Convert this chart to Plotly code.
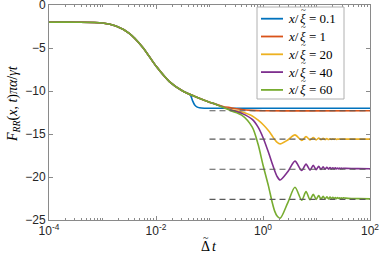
import plotly.graph_objects as go

# ---- data ----
common_t = [1e-4, 3.16e-4, 1e-3, 1.78e-3, 3.16e-3, 5.62e-3, 1e-2, 1.78e-2, 3.16e-2]
common_y = [-2.0, -2.0, -2.1, -2.45, -3.3, -4.9, -7.1, -8.9, -10.0]

mid_t = [5.62e-2, 0.1, 0.126]
mid_y = [-10.7, -11.3, -11.5]

blue_t = [0.0437, 0.048, 0.0525, 0.058, 0.065, 0.08, 0.1, 1.0, 100.0]
blue_y = [-10.45, -11.1, -11.6, -11.85, -11.95, -12.0, -12.0, -12.0, -12.0]

orange_t = [0.178, 0.25, 0.4, 0.63, 1.0, 100.0]
orange_y = [-11.8, -11.95, -12.15, -12.25, -12.3, -12.3]

tail_t = [0.178, 0.25, 0.4, 0.63, 0.81, 1.0, 1.26, 1.48, 1.66, 1.82, 2.09, 2.9, 3.96,
          5.29, 6.37, 7.57, 8.7, 9.85, 11.0, 12.15, 13.3, 14.45, 15.6, 16.75, 17.9,
          19.05, 20.2, 21.35, 22.5, 23.65, 24.8, 25.95, 27.1, 28.25, 29.4, 30.55,
          31.7, 35.0, 45.0, 60.0, 100.0]

yellow_y = [-11.85, -12.15, -12.45, -12.9, -13.4, -13.9, -14.6, -15.2, -15.65, -15.95, -16.15, -15.7, -15.1,
            -15.75, -15.3, -15.7, -15.42, -15.68, -15.48, -15.66, -15.5, -15.65, -15.53, -15.64, -15.55,
            -15.63, -15.56, -15.62, -15.57, -15.62, -15.58, -15.61, -15.58, -15.61, -15.59, -15.6,
            -15.59, -15.6, -15.6, -15.6, -15.6]

purple_y = [-11.85, -12.2, -12.6, -13.3, -14.2, -15.4, -17.1, -18.4, -19.3, -19.9, -20.35, -19.4, -18.15,
            -19.25, -18.5, -19.2, -18.65, -19.15, -18.75, -19.12, -18.82, -19.1, -18.86, -19.08, -18.9,
            -19.07, -18.92, -19.06, -18.94, -19.05, -18.95, -19.05, -18.96, -19.04, -18.97, -19.03,
            -18.98, -19.0, -19.02, -19.03, -19.04]

green_y = [-11.9, -12.3, -12.8, -14.2, -16.2, -18.6, -21.0, -22.9, -24.0, -24.5, -24.8, -23.0, -21.2,
           -22.7, -21.7, -22.65, -22.0, -22.6, -22.15, -22.58, -22.25, -22.56, -22.3, -22.55, -22.33,
           -22.53, -22.36, -22.52, -22.38, -22.51, -22.4, -22.5, -22.41, -22.49, -22.42, -22.48,
           -22.43, -22.46, -22.5, -22.52, -22.54]

asym_levels = [-12.3, -15.6, -19.1, -22.6]
asym_t = [0.1, 100.0]

labels = ["0.1", "1", "20", "40", "60"]
colors = ["#0072BD", "#D95319", "#EDB120", "#7E2F8E", "#77AC30"]

xtick_vals = [1e-4, 1e-2, 1, 100]
xtick_text = ["10<sup>-4</sup>", "10<sup>-2</sup>", "10<sup>0</sup>", "10<sup>2</sup>"]
ytick_vals = [0, -5, -10, -15, -20, -25]

series = [
    (common_t + blue_t, common_y + blue_y),
    (common_t + mid_t + orange_t, common_y + mid_y + orange_y),
    (common_t + mid_t + tail_t, common_y + mid_y + yellow_y),
    (common_t + mid_t + tail_t, common_y + mid_y + purple_y),
    (common_t + mid_t + tail_t, common_y + mid_y + green_y),
]

SERIF = "Liberation Serif, Times New Roman, serif"

# layout geometry (pixels)
W, H = 382, 262
ML, MR, MT, MB = 49, 12, 5, 42
PW, PH = W - ML - MR, H - MT - MB


def px(xp):
    return (xp - ML) / PW


def py(yp):
    return 1 - (yp - MT) / PH


fig = go.Figure()
for (tx, ty), lab, col in zip(series, labels, colors):
    fig.add_trace(go.Scatter(
        x=tx, y=ty, mode="lines",
        line=dict(color=col, width=1.6, shape="spline", smoothing=0.8),
        name="x/ξ̃ = " + lab, showlegend=False,
    ))

for lev in asym_levels:
    fig.add_trace(go.Scatter(
        x=asym_t, y=[lev, lev], mode="lines",
        line=dict(color="#5a5a5a", width=1.1, dash="6px,4px"),
        showlegend=False, hoverinfo="skip",
    ))

minor_vals = []
for d in range(-4, 2):
    for k in range(1, 10):
        if k == 1 and d % 2 == 0:
            continue
        minor_vals.append(k * 10 ** d)

axis_common = dict(
    showline=True, linecolor="#8a8a8a", linewidth=1, mirror="ticks",
    ticks="inside", tickcolor="#8a8a8a", ticklen=4, showgrid=False, zeroline=False,
    ticklabeloverflow="allow",
    tickfont=dict(family="Liberation Sans, Arial", size=12, color="#262626"),
)

fig.update_xaxes(type="log", range=[-4, 2], tickvals=xtick_vals, ticktext=xtick_text,
                 minor=dict(tickvals=minor_vals, ticks="inside", ticklen=2, tickcolor="#8a8a8a"),
                 **axis_common)
fig.update_yaxes(range=[-25, 0], tickvals=ytick_vals, **axis_common)

# ---- hand-built legend (box, line samples, text with tilde over xi) ----
shapes = [dict(type="rect", xref="paper", yref="paper",
               x0=px(257), x1=px(344), y0=py(99), y1=py(7),
               line=dict(color="#b0b0b0", width=1), fillcolor="white", layer="above")]
annotations = []
row_y = [18.7, 36.5, 54.3, 72.1, 89.9]
for yy, lab, col in zip(row_y, labels, colors):
    shapes.append(dict(type="line", xref="paper", yref="paper",
                       x0=px(261), x1=px(283), y0=py(yy), y1=py(yy),
                       line=dict(color=col, width=1.8), layer="above"))
    annotations.append(dict(text="<i>x</i>/", xref="paper", yref="paper",
                            x=px(299.5), y=py(yy), xanchor="right", yanchor="middle",
                            showarrow=False, borderpad=0,
                            font=dict(family=SERIF, size=13, color="#000")))
    annotations.append(dict(text="<i>ξ</i>", xref="paper", yref="paper",
                            x=px(302.5), y=py(yy), xanchor="center", yanchor="middle",
                            showarrow=False, borderpad=0,
                            font=dict(family=SERIF, size=13, color="#000")))
    annotations.append(dict(text="~", xref="paper", yref="paper",
                            x=px(303.5), y=py(yy - 9), xanchor="center", yanchor="middle",
                            showarrow=False, borderpad=0,
                            font=dict(family=SERIF, size=9, color="#000")))
    annotations.append(dict(text="= " + lab, xref="paper", yref="paper",
                            x=px(307.5), y=py(yy), xanchor="left", yanchor="middle",
                            showarrow=False, borderpad=0,
                            font=dict(family=SERIF, size=13, color="#000")))

# axis titles
annotations.append(dict(text="<i>F</i><sub><i>RR</i></sub>(<i>x</i>, <i>t</i>)<i>πα</i>/<i>γt</i>",
                        xref="paper", yref="paper", x=px(13), y=py(104), textangle=-90,
                        showarrow=False, xanchor="center", yanchor="middle",
                        font=dict(family=SERIF, size=14, color="#000")))
annotations.append(dict(text="Δ", xref="paper", yref="paper", x=px(205.5), y=py(246),
                        xanchor="center", yanchor="middle", showarrow=False,
                        font=dict(family=SERIF, size=14, color="#000")))
annotations.append(dict(text="~", xref="paper", yref="paper", x=px(205.5), y=py(237.5),
                        xanchor="center", yanchor="middle", showarrow=False,
                        font=dict(family=SERIF, size=10, color="#000")))
annotations.append(dict(text="<i>t</i>", xref="paper", yref="paper", x=px(214.5), y=py(246),
                        xanchor="center", yanchor="middle", showarrow=False,
                        font=dict(family=SERIF, size=14, color="#000")))

fig.update_layout(
    width=W, height=H,
    margin=dict(l=ML, r=MR, t=MT, b=MB, autoexpand=False),
    plot_bgcolor="white", paper_bgcolor="white",
    showlegend=False,
    shapes=shapes,
    annotations=annotations,
)

fig.write_html("out.html", config={"displayModeBar": False},
               post_script="document.body.style.margin='0px';document.body.style.padding='0px';")
